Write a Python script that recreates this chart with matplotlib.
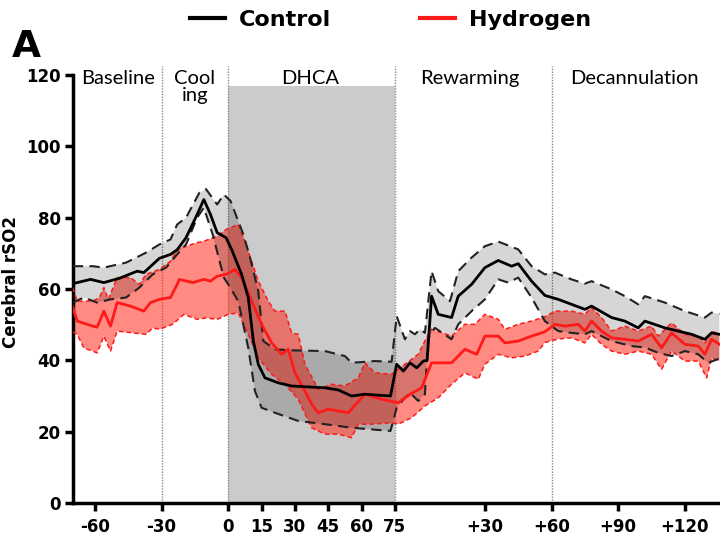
import numpy as np
import matplotlib
matplotlib.use('Agg')
import matplotlib.pyplot as plt
from matplotlib.lines import Line2D

plt.rcParams['font.family'] = ['Lato', 'DejaVu Sans']
BOLD = ['DejaVu Sans']

# ---------------- data (x in continuous axis minutes) ----------------
ctrl_mean_t = [-70, -62, -56, -49, -41, -38, -31, -26, -23, -19, -14, -11, -8, -5, -1, 1.5, 6, 9, 11.3, 13.5,
               16.5, 22.5, 28.5, 43.5, 49.5, 55.5, 61.5, 73, 75.8, 78.8, 81.8, 84.8, 87.8, 89.5, 91.5, 94.5,
               100.5, 103.5, 109.5, 115.5, 121.5, 127.5, 130.5, 136.5, 142.5, 148.5, 154.5, 160.5, 163.5,
               172.5, 178.5, 184.5, 187.5, 196.5, 202.5, 208.5, 214.5, 217.5, 221]
ctrl_mean = [61.5, 62.7, 61.8, 63, 65, 64.6, 68.6, 69.7, 71, 74.4, 80.9, 85.1, 80.9, 75.8, 74.4, 71.1, 64.1, 57.6,
             45.4, 38.9, 35.1, 33.7, 32.8, 32.3, 31.7, 30, 30.5, 30, 38.9, 37, 39.3, 37.9, 39.8, 40, 58, 52.9,
             52, 58, 61.3, 66, 68, 66.4, 67.1, 62.2, 58.2, 57.1, 55.7, 54.3, 55.2, 52, 51, 49.1, 51, 49.1,
             48.2, 47.3, 45.9, 47.7, 47.3]

ctrl_upper_t = [-70, -61, -56, -46, -37, -31, -26, -23, -19, -13, -10, -5, -2, 1, 6.8, 9.8, 13.5, 15.8, 21,
                28.5, 43.5, 52.5, 55.5, 66, 73.5, 75.8, 79.5, 81.8, 84, 86.3, 88.5, 91.5, 94.5, 99.8, 103.5,
                109.5, 115.5, 121.5, 130.5, 136.5, 142.5, 147, 154.5, 160.5, 163.5, 172.5, 178.5, 184.5,
                187.5, 196.5, 205.5, 214.5, 217.5, 221]
ctrl_upper = [66.4, 66.4, 66, 67.4, 70.2, 72.5, 73.9, 78.1, 80, 87, 88, 83.7, 86.5, 84.7, 75.3, 68.8, 59.4, 45.4,
              43.1, 42.8, 42.6, 41.2, 39.3, 39.8, 39.6, 52.4, 45.9, 48.2, 47.3, 48.7, 47.7, 65, 59.4, 56.6, 65,
              68.8, 72, 73.3, 71.1, 66.4, 64.1, 64.6, 62.7, 61.5, 62.2, 59.9, 58, 55.7, 58, 56.2, 53.8, 52,
              53.4, 53]

ctrl_lower_t = [-70, -65, -59, -53, -46, -40, -34, -28, -23, -19, -14, -11, -7, -2, 0, 4.5, 9, 12, 15, 21,
                31.5, 43.5, 55.5, 73, 75.8, 79.5, 81.8, 85.5, 88.5, 90, 93, 100.5, 103.5, 109.5, 115.5,
                121.5, 126, 130.5, 136.5, 142.5, 148.5, 154.5, 160.5, 163.5, 172.5, 181.5, 187.5, 193.5,
                199.5, 205.5, 211.5, 216, 221]
ctrl_lower = [56.2, 57.6, 56.2, 57.1, 57.6, 60.4, 64.1, 66, 69.7, 72.5, 80, 82.8, 75.3, 63.2, 61.3, 56.6, 43.5,
              31.4, 26.7, 25.3, 23, 22.1, 21.1, 20.2, 26.7, 29.5, 30.9, 28.6, 30.5, 46.3, 49.1, 45.9, 50.1,
              53.8, 57.1, 62.7, 61.8, 63.2, 57.6, 51, 48.2, 47.7, 47.3, 48.2, 45.4, 44, 43.6, 42.1, 41.2,
              42.6, 41.7, 39.3, 40.5]

h2_mean_t = [-70, -68, -61, -59, -56, -53, -50, -44, -38, -35, -31, -26, -23, -22, -16, -11, -8, -5, -1, 3, 6,
             10.5, 15, 19.5, 24, 27, 30, 34.5, 37.5, 40.5, 45, 54, 61.5, 69, 76.5, 81.8, 87, 91.5, 100.5,
             106.5, 111.8, 115.5, 121.5, 124.5, 130.5, 136.5, 142.5, 147, 151.5, 157.5, 160.5, 163.5, 168,
             172.5, 178.5, 184.5, 190.5, 195, 199.5, 205.5, 211.5, 214.5, 217.5, 221]
h2_mean = [55, 51, 49.6, 49.3, 53.8, 49.6, 56.2, 55.2, 53.8, 56.2, 57.1, 57.6, 61.3, 62.7, 61.8, 62.7, 62.2,
           63.6, 64.1, 65.5, 63.2, 56.6, 50.1, 44.9, 41.7, 43.1, 36.5, 31.4, 27.7, 25.3, 26.3, 25.3, 30.5,
           29.1, 28.1, 30.5, 32.3, 39.3, 39.3, 43.1, 41.7, 46.8, 46.8, 44.9, 45.4, 46.8, 48, 50.1, 49.6,
           50.1, 48.2, 51, 48.2, 46.3, 45.9, 45.4, 47.3, 43.5, 47.7, 44.5, 44, 41.7, 45.9, 44.5]

h2_upper_t = [-70, -68, -61, -58, -56, -54, -50, -44, -40, -37, -31, -26, -23, -19, -14, -11, -5, -1, 4.5, 9,
              13.5, 18, 21, 25.5, 28.5, 31.5, 34.5, 40.5, 46.5, 52.5, 58.5, 61.5, 66, 73.5, 76.5, 79.5,
              85.5, 90, 91.5, 100.5, 106.5, 111, 115.5, 121.5, 124.5, 130.5, 136.5, 142.5, 147, 154.5,
              160.5, 163.5, 168, 172.5, 178.5, 184.5, 190.5, 193.5, 199.5, 205.5, 211.5, 214.5, 217.5, 221]
h2_upper = [60.4, 56.6, 56.6, 57.6, 60.4, 57.1, 63.2, 63.2, 61.3, 64.1, 65.5, 67.8, 71.1, 72, 73, 73.4, 74.8,
            76.7, 78.1, 70.6, 62.2, 56.6, 53.8, 53.8, 47.7, 47.3, 38.9, 31.9, 33.3, 32.8, 35.1, 39.3, 36.5,
            36.1, 37.5, 38.9, 41.7, 47.3, 48.7, 46.8, 50.1, 50.1, 52.9, 51.5, 48.7, 50.1, 51, 52.2, 53.8,
            53.8, 52.9, 54.8, 52, 48.2, 49.6, 48.2, 49.6, 46.8, 50.5, 47.3, 46.8, 44.9, 48.2, 47.3]

h2_lower_t = [-70, -68, -65, -59, -56, -53, -50, -43, -37, -34, -31, -25, -20, -14, -10, -5, 0, 4.5, 9, 13.5,
              19.5, 25.5, 31.5, 37.5, 43.5, 49.5, 55.5, 58.5, 64.5, 73.5, 76.5, 82.5, 88.5, 94.5, 100.5,
              106.5, 112.5, 115.5, 121.5, 127.5, 133.5, 139.5, 142.5, 148.5, 154.5, 160.5, 163.5, 168,
              172.5, 178.5, 184.5, 190.5, 195, 199.5, 205.5, 211.5, 215.3, 217.5, 221]
h2_lower = [48, 47.3, 43.5, 42.1, 46.8, 42.6, 48.2, 47.7, 47.3, 49.1, 48.7, 50.1, 52.9, 51.5, 51.9, 51.5, 52.9,
            53.3, 47.3, 40.7, 36.1, 33.3, 29.1, 21.1, 19.3, 19.3, 18.3, 22.1, 22.1, 22.5, 22.1, 23.9, 27.2,
            29.5, 33.3, 36.5, 34.7, 38.9, 41.7, 40.7, 41.2, 42.6, 45, 46, 46.3, 44.9, 47.3, 44.5, 42.6,
            41.7, 42.6, 41.7, 37.5, 42.6, 39.8, 39.8, 35.1, 40.7, 39.8]

phase_lines = [-30, 0, 75, 145.5]
phase_labels = ['Baseline', 'Cool\ning', 'DHCA', 'Rewarming', 'Decannulation']
phase_label_x = [-49.6, -15, 36.7, 108.8, 183]
tick_pos = [-60, -30, 0, 15, 30, 45, 60, 75, 115.5, 145.5, 175.5, 205.5]
tick_lab = ['-60', '-30', '0', '15', '30', '45', '60', '75', '+30', '+60', '+90', '+120']

# ---------------- figure ----------------
fig = plt.figure(figsize=(7.2, 5.39), dpi=100)
ax = fig.add_axes([0.1007, 0.0668, 0.8993, 0.794])
ax.set_xlim(-70.1, 221.3)
ax.set_ylim(0, 120)

ax.axvspan(0, 75, ymin=0, ymax=117 / 120, color='#cbcbcb', lw=0, zorder=0)
for xv in phase_lines:
    ax.axvline(xv, ymin=0, ymax=1.02, color='#8a8a8a', ls=(0, (1, 1)), lw=1.0, zorder=1, clip_on=False)

# bands
ax.fill(np.concatenate([h2_upper_t, h2_lower_t[::-1]]), np.concatenate([h2_upper, h2_lower[::-1]]),
        color='#ff2a1a', alpha=0.54, lw=0, zorder=2)
ax.fill(np.concatenate([ctrl_upper_t, ctrl_lower_t[::-1]]), np.concatenate([ctrl_upper, ctrl_lower[::-1]]),
        color='black', alpha=0.16, lw=0, zorder=3)

# boundaries
ax.plot(h2_upper_t, h2_upper, color='#ff1a1a', lw=1.1, ls=(0, (3, 2)), zorder=4)
ax.plot(h2_lower_t, h2_lower, color='#ff1a1a', lw=1.1, ls=(0, (3, 2)), zorder=4)
ax.plot(ctrl_upper_t, ctrl_upper, color='#222222', lw=1.5, ls=(0, (5, 3)), zorder=5)
ax.plot(ctrl_lower_t, ctrl_lower, color='#222222', lw=1.5, ls=(0, (5, 3)), zorder=5)
ax.plot(h2_mean_t, h2_mean, color='#ff1a1a', lw=2.0, zorder=6)
ax.plot(ctrl_mean_t, ctrl_mean, color='black', lw=2.0, zorder=7)

for lab, xv in zip(phase_labels, phase_label_x):
    ax.text(xv, 121.3, lab, ha='center', va='top', fontsize=14.5, linespacing=1.0, clip_on=False)

for s in ['top', 'right']:
    ax.spines[s].set_visible(False)
for s in ['left', 'bottom']:
    ax.spines[s].set_linewidth(2.5)
ax.set_xticks(tick_pos)
ax.set_xticklabels(tick_lab)
ax.set_yticks(np.arange(0, 121, 20))
ax.tick_params(direction='out', length=6, width=2.5, labelsize=12, pad=2.5)
for t in ax.get_xticklabels() + ax.get_yticklabels():
    t.set_fontweight('bold')
    t.set_family(BOLD)
ax.tick_params(axis='x', pad=5)
ax.set_ylabel('Cerebral rSO2', fontsize=12, fontweight='bold', family=BOLD)
ax.yaxis.set_label_coords(-0.081, 0.516)

handles = [Line2D([0], [0], color='black', lw=3), Line2D([0], [0], color='#ff1a1a', lw=3)]
fig.legend(handles, ['Control', 'Hydrogen'], loc='center', bbox_to_anchor=(0.542, 0.963), ncol=2,
           frameon=False, prop={'weight': 'bold', 'size': 16, 'family': BOLD}, handlelength=1.6,
           columnspacing=4.0, handletextpad=0.6)
fig.text(0.016, 0.912, 'A', fontsize=27, fontweight='bold', family=BOLD, ha='left', va='center')

fig.savefig('out.png', dpi=100)
